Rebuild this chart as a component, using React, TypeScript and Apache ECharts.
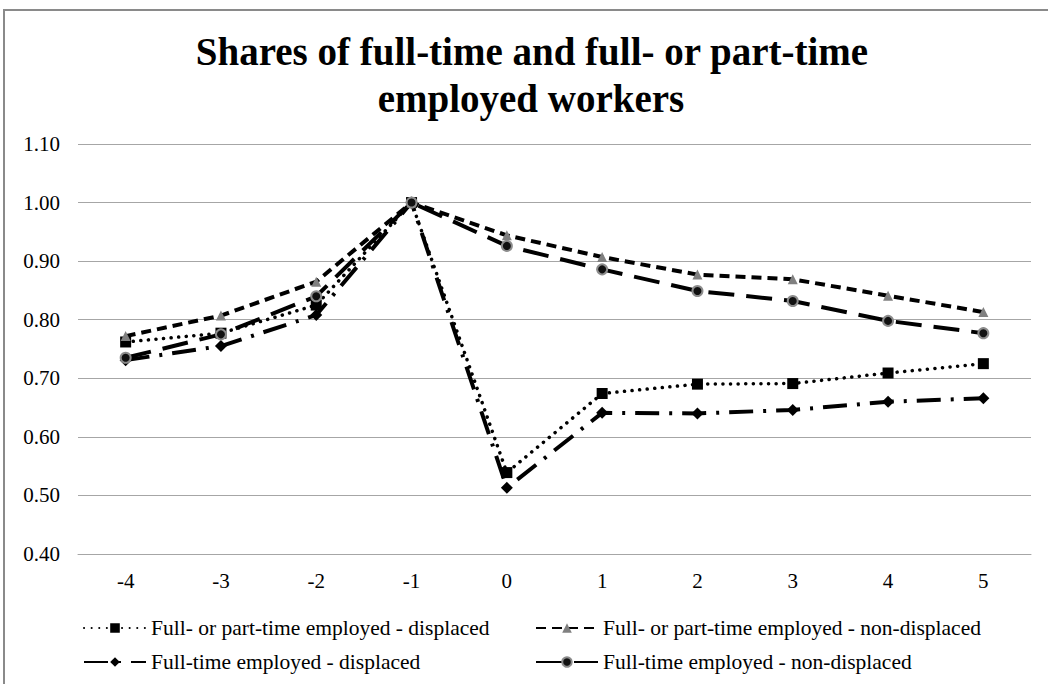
import React, { useEffect, useRef } from "react";
import * as echarts from "echarts";

const categories = ["-4", "-3", "-2", "-1", "0", "1", "2", "3", "4", "5"];
const yTicks = { min: 0.4, max: 1.1, interval: 0.1 };

const ftptDisplaced = [0.762, 0.777, 0.825, 1.0, 0.539, 0.674, 0.69, 0.691, 0.709, 0.725];
const ftptNonDisplaced = [0.772, 0.807, 0.865, 1.0, 0.944, 0.907, 0.877, 0.869, 0.841, 0.813];
const ftDisplaced = [0.731, 0.755, 0.808, 1.0, 0.513, 0.641, 0.64, 0.646, 0.66, 0.666];
const ftNonDisplaced = [0.735, 0.775, 0.84, 1.0, 0.926, 0.886, 0.849, 0.832, 0.798, 0.777];

const names = [
  "Full- or part-time employed - displaced",
  "Full- or part-time employed - non-displaced",
  "Full-time employed - displaced",
  "Full-time employed - non-displaced",
];

const titleLines = ["Shares of full-time and full- or part-time", "employed workers"];

const FONT = "'Liberation Serif', 'Times New Roman', serif";

export default function App() {
  const ref = useRef<HTMLDivElement>(null);
  useEffect(() => {
    if (!ref.current) return;
    const chart = echarts.init(ref.current, undefined, { renderer: "svg" });
    const legendText = { fontFamily: FONT, fontSize: 21.5, color: "#000" };
    const mkLegend = (name: string, left: number, top: number) => ({
      show: true,
      data: [name],
      left,
      top,
      itemWidth: 62,
      itemHeight: 12,
      itemGap: 0,
      padding: 0,
      textStyle: legendText,
      selectedMode: false,
    });
    const titleFont = `bold 39px ${FONT}`;
    chart.setOption({
      animation: false,
      backgroundColor: "#fff",
      graphic: [
        {
          type: "rect",
          shape: { x: 4, y: 10, width: 1100, height: 700 },
          style: { fill: "none", stroke: "#8a8a8a", lineWidth: 2 },
          silent: true,
        },
        {
          type: "text",
          x: 532,
          y: 51,
          style: {
            text: titleLines[0],
            font: titleFont,
            fill: "#000",
            textAlign: "center",
            textVerticalAlign: "middle",
          },
        },
        {
          type: "text",
          x: 531,
          y: 98,
          style: {
            text: titleLines[1],
            font: titleFont,
            fill: "#000",
            textAlign: "center",
            textVerticalAlign: "middle",
          },
        },
      ],
      legend: [
        mkLegend(names[0], 83, 617),
        mkLegend(names[1], 535, 617),
        mkLegend(names[2], 83, 651),
        mkLegend(names[3], 535, 651),
      ],
      grid: { left: 78, right: 17, top: 144, bottom: 130 },
      xAxis: {
        type: "category",
        data: categories,
        boundaryGap: true,
        axisLine: { show: true, lineStyle: { color: "#a6a6a6", width: 1 } },
        axisTick: { show: false },
        axisLabel: { fontFamily: FONT, fontSize: 21, color: "#000", margin: 16 },
      },
      yAxis: {
        type: "value",
        min: yTicks.min,
        max: yTicks.max,
        interval: yTicks.interval,
        axisLine: { show: false },
        axisTick: { show: false },
        splitLine: { lineStyle: { color: "#a6a6a6", width: 1 } },
        axisLabel: {
          fontFamily: FONT,
          fontSize: 21,
          color: "#000",
          margin: 18,
          formatter: (v: number) => v.toFixed(2),
        },
      },
      series: [
        {
          name: names[0],
          type: "line",
          data: ftptDisplaced,
          symbol: "rect",
          symbolSize: 11,
          itemStyle: { color: "#000" },
          lineStyle: { color: "#000", width: 3.5, type: [0.1, 7.5], cap: "round" },
        },
        {
          name: names[1],
          type: "line",
          data: ftptNonDisplaced,
          symbol: "triangle",
          symbolSize: 10,
          itemStyle: { color: "#808080" },
          lineStyle: { color: "#000", width: 4, type: [10, 6] },
        },
        {
          name: names[2],
          type: "line",
          data: ftDisplaced,
          symbol: "diamond",
          symbolSize: 12,
          itemStyle: { color: "#000" },
          lineStyle: { color: "#000", width: 4, type: [24, 10, 3, 10], cap: "butt" },
        },
        {
          name: names[3],
          type: "line",
          data: ftNonDisplaced,
          symbol: "circle",
          symbolSize: 10,
          itemStyle: { color: "#111", borderColor: "#8c8c8c", borderWidth: 2 },
          lineStyle: { color: "#000", width: 4, type: [26, 12] },
        },
      ],
    });
    return () => chart.dispose();
  }, []);
  return (
    <div
      ref={ref}
      style={{ position: "fixed", left: 0, top: 0, width: 1048, height: 684 }}
    />
  );
}
